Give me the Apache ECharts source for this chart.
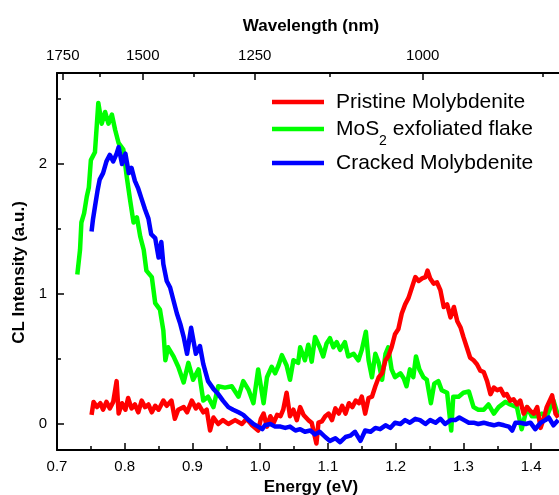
<!DOCTYPE html>
<html><head><meta charset="utf-8">
<script src="https://cdn.jsdelivr.net/npm/echarts@6/dist/echarts.min.js"></script>
<style>html,body{margin:0;padding:0;background:#fff}#c{width:559px;height:495px}</style>
</head><body><div id="c"></div>
<script>
// ---- tick values ----
const energyTicks = [0.7, 0.8, 0.9, 1.0, 1.1, 1.2, 1.3, 1.4];
const energyMinorTicks = [0.75, 0.85, 0.95, 1.05, 1.15, 1.25, 1.35];
const intensityTicks = [0, 1, 2];
const intensityMinorTicks = [0.5, 1.5, 2.5];
const wavelengthTicks = [1750, 1500, 1250, 1000];
const wavelengthMinorTicks = [1625, 1375, 1125, 875];

// ---- series ----
const pristineE = [0.751,0.754,0.759,0.764,0.768,0.773,0.778,0.783,0.788,0.791,0.796,0.801,0.805,0.810,0.815,0.820,0.825,0.830,0.835,0.840,0.845,0.850,0.857,0.862,0.869,0.874,0.879,0.887,0.892,0.899,0.905,0.909,0.916,0.921,0.926,0.931,0.938,0.945,0.953,0.963,0.973,0.980,0.988,0.997,1.001,1.005,1.010,1.015,1.020,1.025,1.030,1.034,1.039,1.044,1.049,1.054,1.059,1.064,1.071,1.076,1.083,1.086,1.091,1.096,1.101,1.106,1.111,1.116,1.121,1.126,1.131,1.136,1.141,1.146,1.150,1.155,1.160,1.165,1.170,1.175,1.180,1.185,1.189,1.194,1.199,1.204,1.209,1.214,1.219,1.224,1.229,1.234,1.239,1.244,1.247,1.251,1.256,1.261,1.266,1.271,1.276,1.281,1.286,1.291,1.296,1.300,1.305,1.310,1.315,1.320,1.325,1.330,1.335,1.340,1.345,1.350,1.355,1.360,1.364,1.369,1.374,1.379,1.384,1.389,1.394,1.399,1.404,1.409,1.414,1.419,1.423,1.431,1.436,1.440];
const pristineI = [0.07,0.17,0.13,0.16,0.11,0.17,0.12,0.17,0.33,0.08,0.16,0.11,0.20,0.12,0.15,0.09,0.18,0.13,0.15,0.09,0.14,0.11,0.18,0.14,0.18,0.04,0.11,0.13,0.09,0.18,0.12,0.15,0.09,0.11,-0.05,0.05,0.00,0.03,0.00,0.03,0.00,0.04,-0.01,-0.05,0.04,0.08,-0.02,0.06,0.01,0.07,0.06,0.11,0.24,0.06,0.11,0.03,0.13,0.07,0.03,0.01,-0.15,0.01,0.02,0.06,0.08,0.03,0.12,0.08,0.14,0.08,0.16,0.13,0.18,0.16,0.21,0.08,0.20,0.21,0.29,0.36,0.39,0.49,0.52,0.59,0.69,0.73,0.85,0.92,0.97,1.05,1.13,1.10,1.12,1.13,1.18,1.12,1.08,1.09,1.03,0.90,0.92,0.82,0.90,0.79,0.74,0.67,0.59,0.51,0.49,0.46,0.41,0.40,0.33,0.23,0.28,0.26,0.27,0.22,0.23,0.18,0.19,0.15,0.18,0.08,0.13,0.10,0.08,0.13,-0.03,0.05,0.13,0.22,0.08,0.05];

const flakeE = [0.730,0.734,0.736,0.740,0.744,0.747,0.750,0.756,0.761,0.766,0.771,0.776,0.781,0.786,0.791,0.798,0.803,0.808,0.813,0.818,0.823,0.828,0.832,0.840,0.845,0.852,0.857,0.860,0.864,0.872,0.879,0.887,0.894,0.901,0.909,0.916,0.923,0.931,0.938,0.948,0.958,0.968,0.975,0.983,0.990,0.997,1.005,1.010,1.017,1.022,1.027,1.032,1.039,1.044,1.049,1.056,1.059,1.066,1.071,1.076,1.081,1.088,1.093,1.098,1.103,1.108,1.113,1.118,1.125,1.130,1.138,1.145,1.150,1.156,1.160,1.165,1.170,1.175,1.180,1.185,1.189,1.194,1.199,1.207,1.212,1.216,1.221,1.226,1.230,1.235,1.241,1.246,1.252,1.257,1.263,1.268,1.276,1.282,1.285,1.293,1.300,1.308,1.315,1.322,1.330,1.337,1.345,1.352,1.362,1.369,1.379,1.386,1.394,1.401,1.409,1.416,1.423,1.433,1.440];
const flakeI = [1.15,1.34,1.55,1.62,1.75,1.82,2.03,2.09,2.47,2.31,2.40,2.31,2.38,2.26,2.16,2.11,1.90,1.72,1.55,1.59,1.44,1.34,1.18,1.13,0.93,0.88,0.72,0.49,0.59,0.52,0.44,0.32,0.47,0.34,0.42,0.18,0.21,0.13,0.29,0.28,0.29,0.21,0.33,0.26,0.16,0.42,0.16,0.36,0.44,0.39,0.45,0.53,0.45,0.34,0.49,0.47,0.59,0.49,0.61,0.48,0.67,0.59,0.52,0.62,0.66,0.59,0.63,0.57,0.63,0.52,0.54,0.49,0.57,0.71,0.49,0.36,0.54,0.47,0.34,0.54,0.59,0.42,0.36,0.39,0.35,0.29,0.42,0.36,0.52,0.42,0.36,0.34,0.16,0.31,0.33,0.26,0.24,-0.05,0.21,0.21,0.24,0.25,0.13,0.11,0.11,0.15,0.08,0.13,0.17,0.15,0.13,-0.04,0.13,0.06,0.06,0.08,0.06,0.18,0.06];

const crackedE = [0.751,0.753,0.756,0.760,0.763,0.768,0.773,0.778,0.783,0.788,0.791,0.796,0.801,0.806,0.810,0.815,0.820,0.825,0.830,0.835,0.839,0.845,0.850,0.854,0.857,0.862,0.867,0.872,0.877,0.882,0.887,0.892,0.898,0.905,0.911,0.916,0.923,0.931,0.938,0.945,0.953,0.960,0.968,0.975,0.983,0.990,0.997,1.003,1.007,1.015,1.022,1.030,1.037,1.044,1.052,1.059,1.066,1.074,1.081,1.088,1.096,1.103,1.111,1.118,1.126,1.133,1.140,1.148,1.155,1.163,1.170,1.177,1.185,1.192,1.199,1.207,1.214,1.221,1.229,1.236,1.244,1.251,1.259,1.266,1.273,1.281,1.288,1.294,1.301,1.308,1.315,1.322,1.330,1.337,1.345,1.352,1.360,1.367,1.372,1.377,1.384,1.392,1.399,1.406,1.414,1.421,1.426,1.433,1.440];
const crackedI = [1.48,1.57,1.67,1.80,1.88,1.93,2.02,2.07,2.02,2.08,2.13,2.00,2.08,1.93,1.97,1.87,1.81,1.73,1.65,1.58,1.46,1.43,1.28,1.40,1.23,1.10,1.05,0.95,0.85,0.77,0.67,0.54,0.74,0.54,0.60,0.46,0.33,0.27,0.23,0.18,0.13,0.11,0.09,0.07,0.03,0.00,-0.02,-0.04,-0.01,0.00,-0.02,-0.02,-0.03,-0.02,-0.05,-0.04,-0.06,-0.05,-0.08,-0.06,-0.10,-0.13,-0.11,-0.14,-0.10,-0.09,-0.06,-0.13,-0.05,-0.06,-0.03,-0.04,-0.01,-0.03,0.01,0.00,0.03,0.01,0.04,0.03,0.00,0.03,0.01,0.04,0.00,0.03,0.03,0.05,0.03,0.01,0.01,0.00,0.01,0.00,-0.01,0.00,-0.01,-0.02,-0.05,0.01,0.01,0.00,0.01,-0.04,0.01,0.03,0.05,-0.01,0.03];

const names = ['Pristine Molybdenite', 'MoS2 exfoliated flake', 'Cracked Molybdenite'];
const colors = ['#ff0000', '#00ff00', '#0000ff'];

const FONT = "'Liberation Sans', Arial, Helvetica, sans-serif";
const E_MIN = 0.7, E_MAX = 1.45, I_MIN = -0.2, I_MAX = 2.7;
const toE = nm => 1240 / nm;
const pairs = (xs, ys) => xs.map((x, i) => [x, ys[i]]);

const gridBox = { left: 57, top: 73, width: 508, height: 377, containLabel: false, outerBoundsMode: 'none' };
const axisLineStyle = { color: '#000', width: 2 };
const tickStyle = { color: '#000', width: 1.5 };
const labelStyle = { color: '#000', fontSize: 15, fontFamily: FONT };
const nameStyle = { color: '#000', fontSize: 17, fontWeight: 'bold', fontFamily: FONT };
const LINE_W = 4.5;

const chart = echarts.init(document.getElementById('c'), null, { renderer: 'canvas' });
chart.setOption({
  animation: false,
  backgroundColor: '#fff',
  grid: [Object.assign({}, gridBox), Object.assign({}, gridBox)],
  xAxis: [
    { type: 'value', gridIndex: 0, position: 'bottom', min: E_MIN, max: E_MAX,
      name: 'Energy (eV)', nameLocation: 'middle', nameGap: 28, nameTextStyle: nameStyle,
      axisLine: { show: true, onZero: false, lineStyle: axisLineStyle },
      axisTick: { show: true, inside: true, length: 7, lineStyle: tickStyle, customValues: energyTicks },
      axisLabel: { show: true, margin: 9, customValues: energyTicks, formatter: v => v.toFixed(1), ...labelStyle },
      splitLine: { show: false } },
    { type: 'value', gridIndex: 0, position: 'top', min: E_MIN, max: E_MAX,
      name: 'Wavelength (nm)', nameLocation: 'middle', nameGap: 38, nameTextStyle: nameStyle,
      axisLine: { show: true, onZero: false, lineStyle: axisLineStyle },
      axisTick: { show: true, inside: true, length: 7, lineStyle: tickStyle, customValues: wavelengthTicks.map(toE) },
      axisLabel: { show: true, margin: 10, customValues: wavelengthTicks.map(toE), formatter: v => String(Math.round(1240 / v)), ...labelStyle },
      splitLine: { show: false } },
    { type: 'value', gridIndex: 1, position: 'bottom', min: E_MIN, max: E_MAX,
      axisLine: { show: false, onZero: false },
      axisTick: { show: true, inside: true, length: 4, lineStyle: tickStyle, customValues: energyMinorTicks },
      axisLabel: { show: false }, splitLine: { show: false } },
    { type: 'value', gridIndex: 1, position: 'top', min: E_MIN, max: E_MAX,
      axisLine: { show: false, onZero: false },
      axisTick: { show: true, inside: true, length: 4, lineStyle: tickStyle, customValues: wavelengthMinorTicks.map(toE) },
      axisLabel: { show: false }, splitLine: { show: false } }
  ],
  yAxis: [
    { type: 'value', gridIndex: 0, position: 'left', min: I_MIN, max: I_MAX,
      name: 'CL Intensity (a.u.)', nameLocation: 'middle', nameGap: 23,
      nameTextStyle: Object.assign({ padding: [0, 22, 0, 0] }, nameStyle),
      axisLine: { show: true, onZero: false, lineStyle: axisLineStyle },
      axisTick: { show: true, inside: true, length: 7, lineStyle: tickStyle, customValues: intensityTicks },
      axisLabel: { show: true, margin: 10, customValues: intensityTicks, formatter: v => String(v), ...labelStyle },
      splitLine: { show: false } },
    { type: 'value', gridIndex: 1, position: 'left', min: I_MIN, max: I_MAX,
      axisLine: { show: false, onZero: false },
      axisTick: { show: true, inside: true, length: 4, lineStyle: tickStyle, customValues: intensityMinorTicks },
      axisLabel: { show: false }, splitLine: { show: false } }
  ],
  series: [
    { name: names[1], type: 'line', xAxisIndex: 0, yAxisIndex: 0, data: pairs(flakeE, flakeI),
      showSymbol: false, symbol: 'none', lineStyle: { color: colors[1], width: LINE_W, join: 'round' }, z: 2 },
    { name: names[0], type: 'line', xAxisIndex: 0, yAxisIndex: 0, data: pairs(pristineE, pristineI),
      showSymbol: false, symbol: 'none', lineStyle: { color: colors[0], width: LINE_W, join: 'round' }, z: 3 },
    { name: names[2], type: 'line', xAxisIndex: 0, yAxisIndex: 0, data: pairs(crackedE, crackedI),
      showSymbol: false, symbol: 'none', lineStyle: { color: colors[2], width: LINE_W, join: 'round' }, z: 4 }
  ],
  graphic: [
    { type: 'line', shape: { x1: 272, y1: 102, x2: 324, y2: 102 }, style: { stroke: colors[0], lineWidth: 4.5 } },
    { type: 'text', x: 336, y: 102, style: { text: names[0], font: '21px ' + FONT, fill: '#000', verticalAlign: 'middle' } },
    { type: 'line', shape: { x1: 272, y1: 129, x2: 324, y2: 129 }, style: { stroke: colors[1], lineWidth: 4.5 } },
    { type: 'text', x: 336, y: 129, style: { text: 'MoS', font: '21px ' + FONT, fill: '#000', verticalAlign: 'middle' } },
    { type: 'text', x: 379, y: 141, style: { text: '2', font: '14px ' + FONT, fill: '#000', verticalAlign: 'middle' } },
    { type: 'text', x: 387, y: 129, style: { text: ' exfoliated flake', font: '21px ' + FONT, fill: '#000', verticalAlign: 'middle' } },
    { type: 'line', shape: { x1: 272, y1: 163, x2: 324, y2: 163 }, style: { stroke: colors[2], lineWidth: 4.5 } },
    { type: 'text', x: 336, y: 163, style: { text: names[2], font: '21px ' + FONT, fill: '#000', verticalAlign: 'middle' } }
  ]
});
</script>
</body></html>
